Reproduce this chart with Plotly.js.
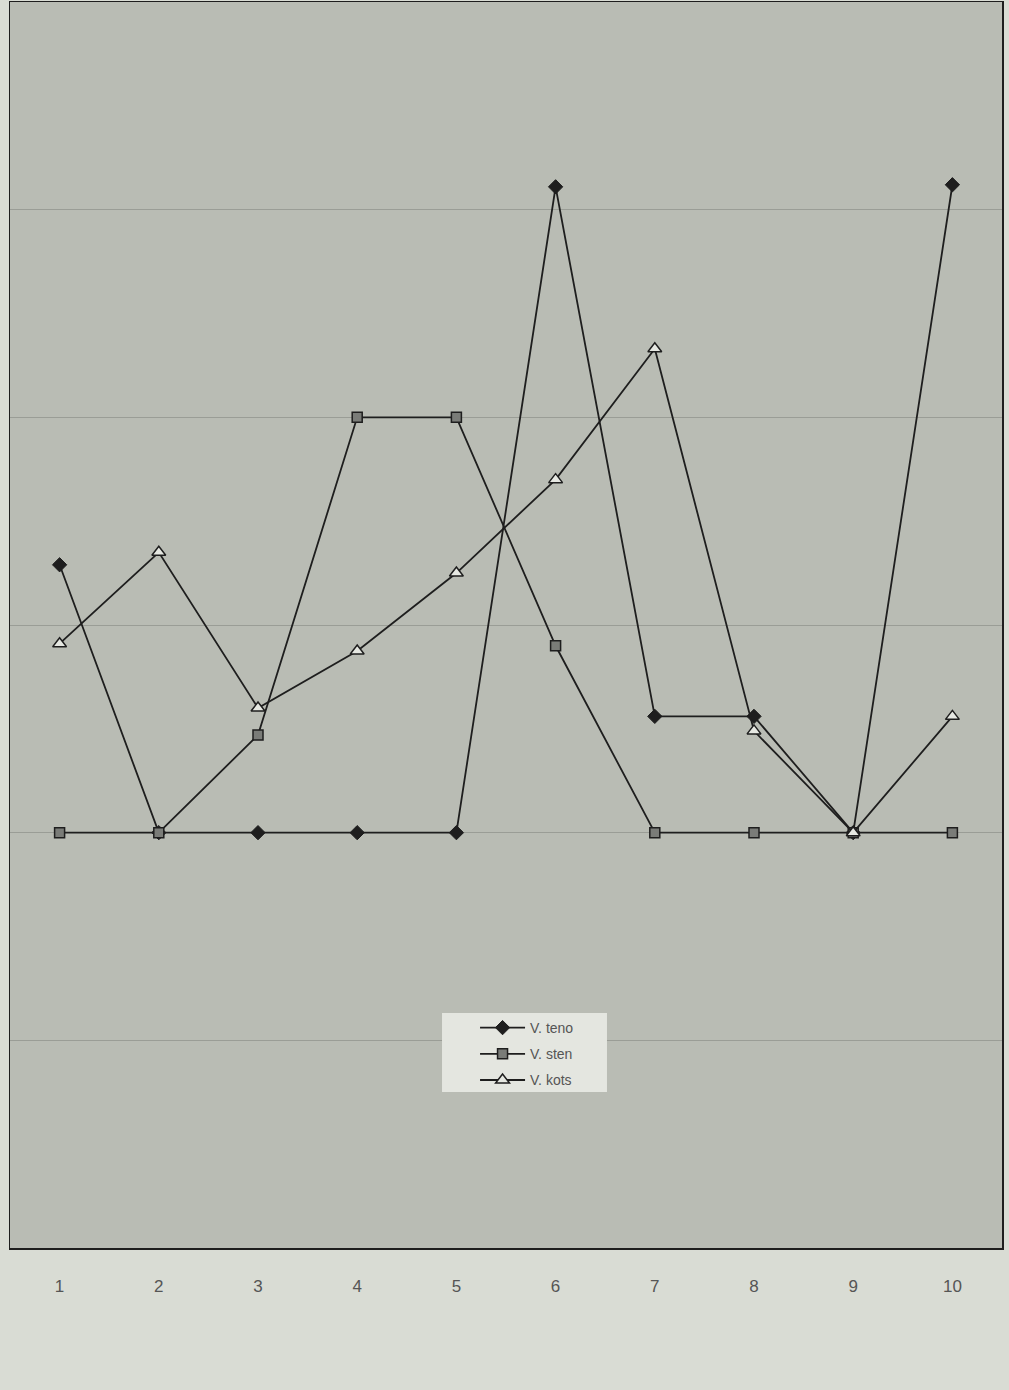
<!DOCTYPE html>
<html>
<head>
<meta charset="utf-8">
<script src="https://cdn.plot.ly/plotly-3.0.1.min.js"></script>
<style>
  html, body { margin: 0; padding: 0; background: #d9dcd4; }
  #chart { width: 1009px; height: 1390px; }
</style>
</head>
<body>
<div id="chart"></div>
<script>
// Data
const categories = [1, 2, 3, 4, 5, 6, 7, 8, 9, 10];
const tickLabels = ["1", "2", "3", "4", "5", "6", "7", "8", "9", "10"];
const seriesNames = ["V. teno", "V. sten", "V. kots"];
const tenoValues = [1.29, 0, 0, 0, 0, 3.11, 0.56, 0.56, 0, 3.12];
const stenValues = [0, 0, 0.47, 2.0, 2.0, 0.9, 0, 0, 0, 0];
const kotsValues = [0.91, 1.35, 0.6, 0.875, 1.25, 1.7, 2.33, 0.49, 0, 0.56];

const lineColor = "#1e1e1e";

const traces = [
  {
    x: categories, y: tenoValues, name: seriesNames[0], type: "scatter", mode: "lines+markers",
    legendgroup: "a",
    line: { color: lineColor, width: 1.8 },
    marker: { symbol: "diamond", size: 11, color: "#1e1e1e", line: { color: "#1e1e1e", width: 1 } }
  },
  {
    x: categories, y: stenValues, name: seriesNames[1], type: "scatter", mode: "lines+markers",
    legendgroup: "b",
    line: { color: lineColor, width: 1.8 },
    marker: { symbol: "square", size: 10, color: "#7a7c78", line: { color: "#1e1e1e", width: 1.5 } }
  },
  {
    x: categories, y: kotsValues, name: seriesNames[2], type: "scatter", mode: "lines+markers",
    legendgroup: "c",
    line: { color: lineColor, width: 1.8 },
    marker: { symbol: "triangle-up", size: 12, color: "#e6e8e2", line: { color: "#1e1e1e", width: 1.5 } }
  }
];

const layout = {
  width: 1009,
  height: 1390,
  margin: { l: 10, r: 7, t: 2, b: 142 },
  paper_bgcolor: "#d9dcd4",
  plot_bgcolor: "#b9bcb4",
  showlegend: true,
  shapes: [
    {
      type: "rect", xref: "paper", yref: "paper",
      x0: 0.4355, x1: 0.6018, y0: 0.1252, y1: 0.1886,
      fillcolor: "#e4e6e0", line: { width: 0 }, layer: "above"
    }
  ],
  legend: {
    x: 0.4688, y: 0.1894, xanchor: "left", yanchor: "top",
    bgcolor: "rgba(0,0,0,0)",
    borderwidth: 0,
    tracegroupgap: 5,
    itemwidth: 45,
    font: { family: "Liberation Sans, Arial, sans-serif", size: 14, color: "#555" }
  },
  xaxis: {
    range: [0.5, 10.5],
    tickmode: "array",
    tickvals: categories,
    ticktext: tickLabels,
    showgrid: false,
    zeroline: false,
    showline: true,
    linecolor: "#1e1e1e",
    linewidth: 1.5,
    mirror: true,
    ticks: "",
    ticklabelstandoff: 22,
    tickfont: { family: "Liberation Sans, Arial, sans-serif", size: 17, color: "#555" }
  },
  yaxis: {
    range: [-2, 4],
    dtick: 1,
    showticklabels: false,
    showgrid: true,
    gridcolor: "#9a9d96",
    gridwidth: 1,
    zeroline: false,
    showline: true,
    linecolor: "#1e1e1e",
    linewidth: 1.5,
    mirror: true,
    ticks: ""
  }
};

Plotly.newPlot("chart", traces, layout, { displayModeBar: false, staticPlot: true });
</script>
</body>
</html>
